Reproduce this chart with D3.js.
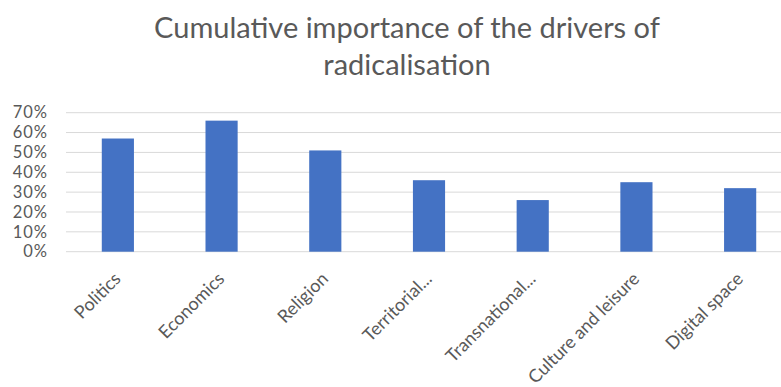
<!DOCTYPE html>
<html>
<head>
<meta charset="utf-8">
<script src="https://cdn.jsdelivr.net/npm/d3@7"></script>
<style>
  body { margin: 0; background: #fff; }
  text { font-family: Lato, "Open Sans", sans-serif; fill: #595959; }
</style>
</head>
<body>
<div id="chart"></div>
<script>
// donnees du graphique
var categories = ["Politics", "Economics", "Religion", "Territorial...", "Transnational...", "Culture and leisure", "Digital space"];
var values = [0.57, 0.66, 0.51, 0.36, 0.26, 0.35, 0.32];
var yTicks = [0, 0.1, 0.2, 0.3, 0.4, 0.5, 0.6, 0.7];
var titleLines = ["Cumulative importance of the drivers of", "radicalisation"];

var width = 781, height = 387;
var svg = d3.select('#chart').append('svg').attr('width', width).attr('height', height);

// echelles
var x = d3.scaleBand().domain(categories).range([66, 792]).paddingInner(0.69).paddingOuter(0.345);
var y = d3.scaleLinear().domain([0, 0.7]).range([251.7, 112.7]);

// titre (deux lignes)
svg.append('text')
    .attr('x', 407).attr('y', 38)
    .attr('text-anchor', 'middle')
    .style('font-size', '29px')
    .selectAll('tspan').data(titleLines).enter().append('tspan')
    .attr('x', 407).attr('dy', function(d, i){ return i == 0 ? 0 : 37; })
    .text(function(d){ return d; });

// lignes de grille
svg.append('g').selectAll('line').data(yTicks).enter().append('line')
    .attr('x1', 66).attr('x2', width)
    .attr('y1', function(d){ return y(d); })
    .attr('y2', function(d){ return y(d); })
    .style('stroke', '#d9d9d9').style('stroke-width', 1);

// axe y
var yAxis = d3.axisLeft(y).tickValues(yTicks).tickFormat(d3.format('.0%')).tickSize(0).tickPadding(0);
var gy = svg.append('g').attr('transform', 'translate(48,0)').call(yAxis);
gy.select('.domain').remove();
gy.selectAll('text')
    .style('font-size', '16.5px')
    .style('letter-spacing', '1px')
    .style('fill', '#595959')
    .style('font-family', 'Lato, sans-serif');

// barres
svg.append('g').selectAll('rect').data(values).enter().append('rect')
    .attr('x', function(d, i){ return x(categories[i]); })
    .attr('width', x.bandwidth())
    .attr('y', function(d){ return y(d); })
    .attr('height', function(d){ return y(0) - y(d); })
    .style('fill', '#4472c4');

// etiquettes x (tournees a -45)
svg.append('g').selectAll('text').data(categories).enter().append('text')
    .attr('transform', function(d){
        var cx = x(d) + x.bandwidth() / 2;
        return 'translate(' + (cx + 4) + ',280) rotate(-45)';
    })
    .attr('text-anchor', 'end')
    .style('font-size', '18px')
    .text(function(d){ return d; });
</script>
</body>
</html>
